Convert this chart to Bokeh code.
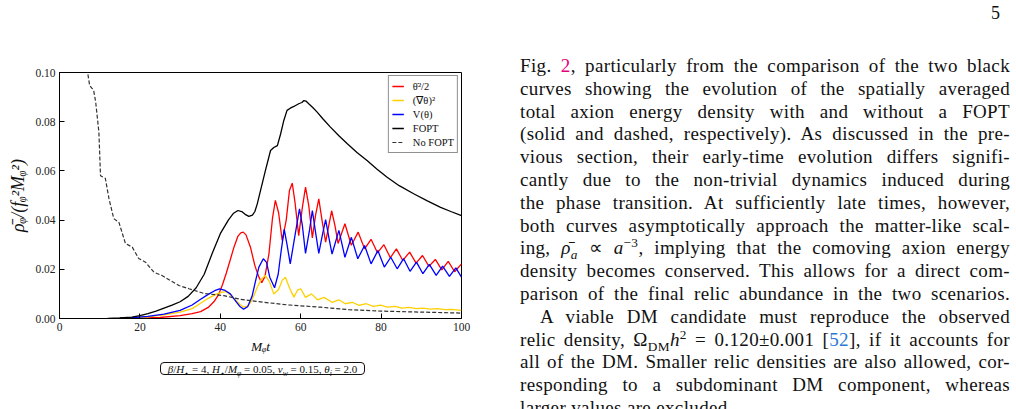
from bokeh.plotting import figure
from bokeh.models import Div, FixedTicker, Legend, LegendItem, NumeralTickFormatter, Range1d
from bokeh.layouts import row, column
from bokeh.embed import file_html
from bokeh.resources import INLINE

# ---------------- data ----------------
# total energy density with a FOPT
t_fopt = [12, 15, 18, 20, 22, 24, 26, 28, 30, 32, 34, 36, 38, 40, 42, 43.3, 44.4, 45.5, 46.3, 47.1,
          48.0, 48.6, 49.2, 50.0, 51.2, 52.5, 53.3, 54.2, 55.0, 55.8, 56.6, 57.4, 58.3, 59.5, 60.3,
          60.8, 61.3, 62.0, 63.0, 64.1, 65.5, 67.4, 69.5, 71.6, 74.0, 76.5, 79.0, 81.5, 84.5, 88.1,
          91.5, 94.8, 97.5, 100]
rho_fopt = [0.0000, 0.0002, 0.0006, 0.0012, 0.0020, 0.0030, 0.0042, 0.0054, 0.0068, 0.0090,
            0.0125, 0.0180, 0.0265, 0.0345, 0.0400, 0.0428, 0.0439, 0.0433, 0.0422, 0.0415,
            0.0420, 0.0435, 0.0466, 0.0520, 0.0600, 0.0683, 0.0695, 0.0703, 0.0750, 0.0805,
            0.0846, 0.0855, 0.0862, 0.0873, 0.0878, 0.0886, 0.0884, 0.0873, 0.0858, 0.0839,
            0.0812, 0.0778, 0.0743, 0.0710, 0.0675, 0.0642, 0.0607, 0.0574, 0.0540, 0.0507,
            0.0478, 0.0452, 0.0434, 0.0418]

# total energy density without a FOPT
t_nofopt = [6.5, 7.0, 7.5, 8.5, 9.0, 9.8, 10.2, 11.4, 12.3, 13.5, 14.8, 16.4, 18.1, 19.7, 21.4,
            23.5, 25.5, 27.6, 29.7, 32.2, 35.9, 40.9, 45.0, 50.8, 57.0, 64.9, 72.0, 79.9, 90.0, 100]
rho_nofopt = [0.104, 0.100, 0.0947, 0.0927, 0.0880, 0.0757, 0.0580, 0.0570, 0.0488, 0.0406,
              0.0390, 0.0305, 0.0290, 0.0244, 0.0229, 0.0188, 0.0175, 0.0154, 0.0134, 0.0121,
              0.0102, 0.0093, 0.0078, 0.0066, 0.0055, 0.0046, 0.0036, 0.0030, 0.0026, 0.0022]

# kinetic part
t_kin = [15, 20, 25, 30, 33, 35.1, 37, 38.4, 39.5, 40.5, 41.5, 42.5, 43.4, 44.4, 45.1, 45.7, 46.4,
         47.5, 48.6, 49.6, 50.3, 51.1, 52.1, 53.0, 53.7, 54.5, 55.4, 56.4, 57.2, 57.9, 58.6, 59.5,
         60.4, 61.2, 62.0, 62.9, 63.7, 64.5, 65.3, 66.2, 67.0, 67.7, 68.5, 69.3, 71.0, 72.6, 74.3,
         75.9, 77.5, 79.1, 80.7, 82.3, 83.8, 85.4, 87.1, 88.7, 90.3, 91.9, 93.5, 95.1, 96.7, 98.3, 100]
rho_kin = [0.0000, 0.0001, 0.0004, 0.0012, 0.0020, 0.0028, 0.0045, 0.0068, 0.0095, 0.0135,
           0.0185, 0.0240, 0.0290, 0.0335, 0.0348, 0.0351, 0.0340, 0.0290, 0.0215, 0.0168,
           0.0146, 0.0170, 0.0263, 0.0410, 0.0480, 0.0430, 0.0317, 0.0400, 0.0520, 0.0550,
           0.0470, 0.0337, 0.0450, 0.0534, 0.0460, 0.0328, 0.0420, 0.0486, 0.0400, 0.0310,
           0.0380, 0.0438, 0.0380, 0.0305, 0.0385, 0.0298, 0.0351, 0.0283, 0.0322, 0.0267,
           0.0300, 0.0247, 0.0283, 0.0236, 0.0270, 0.0225, 0.0256, 0.0212, 0.0240, 0.0198,
           0.0232, 0.0190, 0.0222]

# gradient part
t_grad = [15, 18, 22, 26, 30, 33, 35.1, 37, 39, 40.5, 41.5, 42.5, 43.5, 44.8, 45.8, 46.8, 47.5,
          48.4, 49.2, 50.2, 51.2, 52.2, 53.3, 54.5, 55.4, 56.2, 57.2, 58.3, 59.2, 60.0, 61.2, 62.7,
          64.2, 65.8, 67.8, 69.5, 71.1, 72.8, 74.5, 76.3, 78.1, 79.9, 81.5, 83.5, 85.2, 87.0, 88.8,
          90.5, 92.3, 94.0, 96.0, 97.5, 100]
rho_grad = [0.0000, 0.0002, 0.0007, 0.0015, 0.0026, 0.0040, 0.0062, 0.0082, 0.0099, 0.0107,
            0.0109, 0.0095, 0.0080, 0.0058, 0.0046, 0.0050, 0.0064, 0.0095, 0.0127, 0.0160,
            0.0175, 0.0150, 0.0100, 0.0118, 0.0155, 0.0168, 0.0125, 0.0087, 0.0115, 0.0121,
            0.0086, 0.0100, 0.0076, 0.0086, 0.0066, 0.0076, 0.0060, 0.0066, 0.0053, 0.0060,
            0.0049, 0.0054, 0.0046, 0.0049, 0.0042, 0.0045, 0.0040, 0.0042, 0.0038, 0.0040,
            0.0036, 0.0037, 0.0033]

# potential part
t_pot = [15, 18, 22, 26, 30, 33, 35.1, 37, 38.6, 39.8, 41.2, 42.5, 43.5, 44.8, 45.8, 46.8, 47.9,
         48.8, 49.6, 50.7, 51.5, 52.3, 53.5, 54.4, 55.1, 55.9, 56.6, 57.4, 58.5, 59.7, 60.4, 61.2,
         62.2, 62.9, 63.7, 64.5, 65.4, 66.2, 67.0, 67.8, 69.5, 71.0, 72.6, 74.2, 75.9, 77.5, 79.2,
         80.8, 82.4, 84.0, 85.6, 87.2, 88.8, 90.4, 92.0, 93.7, 95.3, 97.0, 98.6, 100]
rho_pot = [0.0001, 0.0003, 0.0009, 0.0018, 0.0033, 0.0055, 0.0078, 0.0098, 0.0113, 0.0120,
           0.0114, 0.0100, 0.0078, 0.0050, 0.0038, 0.0048, 0.0090, 0.0155, 0.0209, 0.0243,
           0.0228, 0.0168, 0.0125, 0.0180, 0.0270, 0.0362, 0.0300, 0.0222, 0.0330, 0.0446,
           0.0380, 0.0265, 0.0360, 0.0439, 0.0350, 0.0265, 0.0340, 0.0402, 0.0330, 0.0262,
           0.0358, 0.0249, 0.0330, 0.0243, 0.0297, 0.0222, 0.0276, 0.0209, 0.0249, 0.0202,
           0.0243, 0.0192, 0.0229, 0.0182, 0.0220, 0.0175, 0.0213, 0.0171, 0.0206, 0.0168]

x_ticks = [0, 20, 40, 60, 80, 100]
y_ticks = [0.00, 0.02, 0.04, 0.06, 0.08, 0.10]

legend_labels = ["θ̇²/2", "(∇θ)²", "V(θ)", "FOPT", "No FOPT"]

SERIF = "Liberation Serif"

# ---------------- figure ----------------
p = figure(width=510, height=360, output_backend="svg", toolbar_location=None,
           x_range=Range1d(0, 100), y_range=Range1d(0, 0.10),
           min_border_left=59, min_border_right=49, min_border_top=72, min_border_bottom=42)
p.xgrid.visible = False
p.ygrid.visible = False
p.background_fill_color = "white"
p.border_fill_color = "white"
p.outline_line_color = "black"
p.outline_line_width = 1
p.outline_line_alpha = 1

r_kin = p.line(t_kin, rho_kin, line_color="#ff0000", line_width=1.3)
r_grad = p.line(t_grad, rho_grad, line_color="#ffd000", line_width=1.3)
r_pot = p.line(t_pot, rho_pot, line_color="#0000ff", line_width=1.3)
r_fopt = p.line(t_fopt, rho_fopt, line_color="black", line_width=1.3)
r_nofopt = p.line(t_nofopt, rho_nofopt, line_color="#333333", line_width=1.2, line_dash="4 2")

legend = Legend(items=[LegendItem(label=lab, renderers=[r])
                       for lab, r in zip(legend_labels, [r_kin, r_grad, r_pot, r_fopt, r_nofopt])],
                location="top_right")
legend.margin = 3
legend.padding = 3
legend.spacing = 0
legend.glyph_width = 12
legend.glyph_height = 14
legend.label_height = 14
legend.label_standoff = 9
legend.label_text_font = SERIF
legend.label_text_font_size = "10.5px"
legend.label_text_color = "#111111"
legend.border_line_color = "#222222"
legend.border_line_width = 1.5
legend.background_fill_alpha = 1
p.add_layout(legend)

p.xaxis.ticker = FixedTicker(ticks=x_ticks)
p.yaxis.ticker = FixedTicker(ticks=y_ticks)
p.yaxis.formatter = NumeralTickFormatter(format="0.00")
p.axis.major_tick_in = 5
p.axis.major_tick_out = 0
p.axis.minor_tick_line_color = None
p.axis.axis_line_color = "black"
p.axis.major_tick_line_color = "black"
p.axis.major_label_text_font = SERIF
p.axis.major_label_text_font_size = "11.5px"
p.axis.major_label_text_color = "#222222"
p.axis.major_label_standoff = 4
p.axis.axis_label_text_font = SERIF
p.axis.axis_label_text_font_style = "italic"
p.axis.axis_label_text_color = "#111111"
p.xaxis.axis_label_text_font_size = "13.5px"
p.yaxis.axis_label_text_font_size = "18px"
p.xaxis.axis_label = "Mᵩt"
p.yaxis.axis_label = "ρ̄ᵩ/(fᵩ²Mᵩ²)"
p.xaxis.axis_label_standoff = 5
p.yaxis.axis_label_standoff = 4

# parameter box under the axis
params_html = (
    '<div style="position:relative;width:510px;height:49px;font-family:\'Liberation Serif\',serif;color:#111;">'
    '<div style="position:absolute;left:160px;top:2px;width:205px;height:13px;border:1px solid #111;'
    'border-radius:4px;font-size:11px;line-height:13px;text-align:center;white-space:nowrap;">'
    '<i>β</i>/<i>H</i><sub style="font-size:70%;line-height:0">⋆</sub> = 4, '
    '<i>H</i><sub style="font-size:70%;line-height:0">⋆</sub>/<i>M<sub style="font-size:70%;line-height:0">φ</sub></i> = 0.05, '
    '<i>v<sub style="font-size:70%;line-height:0">w</sub></i> = 0.15, '
    '<i>θ<sub style="font-size:70%;line-height:0">i</sub></i> = 2.0'
    '</div></div>'
)
params = Div(text=params_html, width=510, height=49, margin=0)

# ---------------- body text column ----------------
SUB = '<sub style="font-size:70%;line-height:0">{}</sub>'
SUP = '<sup style="font-size:70%;line-height:0">{}</sup>'
body_lines = [
    'Fig. <span style="color:#e5007d">2</span>, particularly from the comparison of the two black',
    'curves showing the evolution of the spatially averaged',
    'total axion energy density with and without a FOPT',
    '(solid and dashed, respectively). As discussed in the pre-',
    'vious section, their early-time evolution differs signifi-',
    'cantly due to the non-trivial dynamics induced during',
    'the phase transition. At sufficiently late times, however,',
    'both curves asymptotically approach the matter-like scal-',
    'ing, <i>ρ̄</i>' + SUB.format('<i>a</i>') + ' ∝ <i>a</i>' + SUP.format('−3') +
    ', implying that the comoving axion energy',
    'density becomes conserved. This allows for a direct com-',
    'parison of the final relic abundance in the two scenarios.',
    'A viable DM candidate must reproduce the observed',
    'relic density, Ω' + SUB.format('DM') + '<i>h</i>' + SUP.format('2') +
    ' = 0.120±0.001 [<span style="color:#2a7ad5">52</span>], if it accounts for',
    'all of the DM. Smaller relic densities are also allowed, cor-',
    'responding to a subdominant DM component, whereas',
    'larger values are excluded.',
]
parts = ['<div style="position:relative;width:506px;height:409px;overflow:hidden;'
         'font-family:\'Liberation Serif\',serif;color:#111;">',
         '<div style="position:absolute;left:481px;top:4px;font-size:18px;line-height:18px;">5</div>',
         '<div style="position:absolute;left:10px;top:55px;width:490px;font-size:19px;'
         'line-height:22.8px;letter-spacing:0.35px;">']
for i, ln in enumerate(body_lines):
    last = i == len(body_lines) - 1
    style = "white-space:nowrap;"
    style += "text-align:left;" if last else "text-align:justify;text-align-last:justify;"
    if i == 11:
        style += "padding-left:20px;"
    parts.append(f'<div style="{style}">{ln}</div>')
parts.append('</div></div>')
body = Div(text="".join(parts), width=506, height=409, margin=0)

layout = row(column(p, params), body)

open("out.html", "w").write(file_html(layout, INLINE))
